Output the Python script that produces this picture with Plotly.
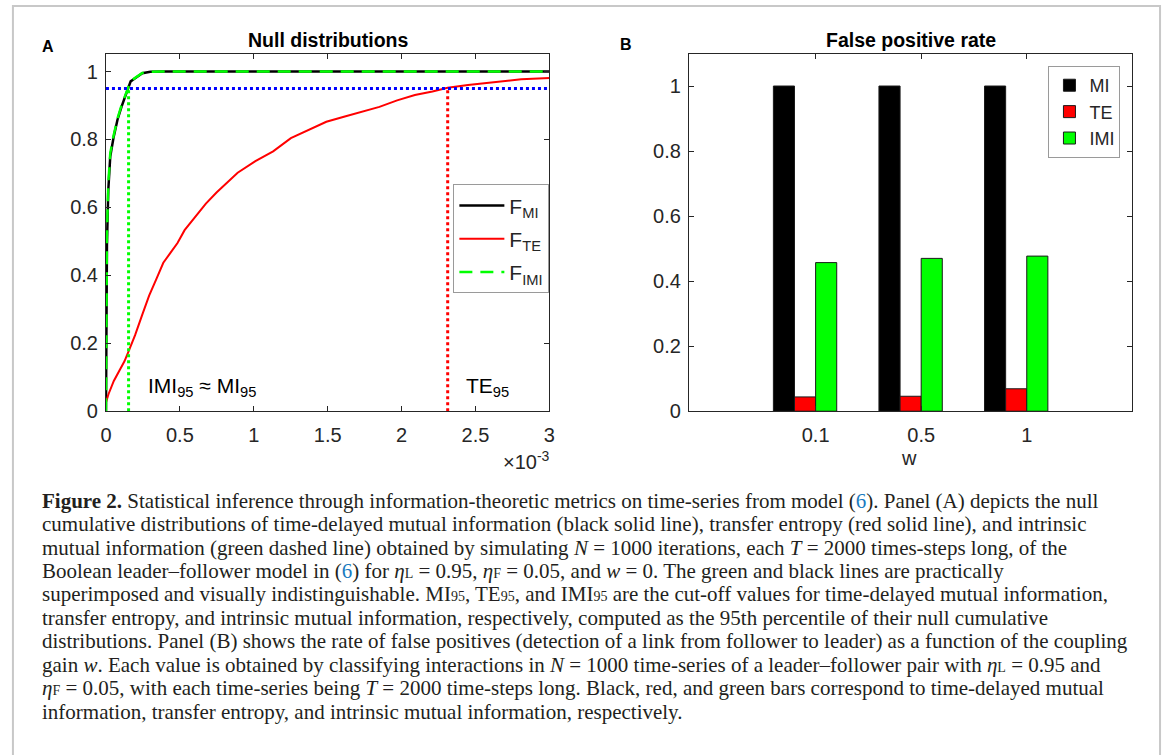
import plotly.graph_objects as go

# ---------------- data ----------------
# Panel A: null cumulative distributions (x in units of 1e-3)
MI_X = [0, 0.001, 0.002, 0.003, 0.004, 0.0055, 0.0067, 0.0156, 0.029, 0.051, 0.078, 0.105,
        0.134, 0.152, 0.167, 0.19, 0.223, 0.246, 0.30, 0.39, 0.6, 1.0, 2.0, 3.0]
MI_Y = [0, 0.05, 0.15, 0.28, 0.38, 0.45, 0.49, 0.65, 0.75, 0.805, 0.858, 0.896,
        0.93, 0.951, 0.971, 0.978, 0.989, 0.995, 0.999, 1.0, 1.0, 1.0, 1.0, 1.0]
IMI_X = [0, 0.001, 0.002, 0.003, 0.004, 0.0055, 0.0067, 0.0156, 0.029, 0.051, 0.078, 0.105,
         0.134, 0.152, 0.167, 0.19, 0.223, 0.246, 0.30, 0.39, 0.6, 1.0, 2.0, 3.0]
IMI_Y = [0, 0.06, 0.17, 0.30, 0.40, 0.47, 0.52, 0.67, 0.76, 0.81, 0.862, 0.90,
         0.934, 0.953, 0.972, 0.979, 0.99, 0.996, 0.999, 1.0, 1.0, 1.0, 1.0, 1.0]
TE_X = [0, 0.017, 0.053, 0.089, 0.125, 0.153, 0.197, 0.244, 0.292, 0.340, 0.388, 0.436,
        0.484, 0.532, 0.604, 0.676, 0.748, 0.820, 0.891, 1.011, 1.131, 1.251, 1.371, 1.491,
        1.610, 1.730, 1.850, 1.970, 2.090, 2.209, 2.312, 2.449, 2.569, 2.689, 2.809, 3.0]
TE_Y = [0.026, 0.05, 0.089, 0.118, 0.147, 0.176, 0.224, 0.282, 0.340, 0.388, 0.437, 0.466,
        0.495, 0.533, 0.572, 0.611, 0.644, 0.673, 0.702, 0.736, 0.765, 0.804, 0.828, 0.852,
        0.867, 0.881, 0.896, 0.915, 0.931, 0.941, 0.952, 0.960, 0.966, 0.972, 0.977, 0.981]
IMI95 = 0.153
TE95 = 2.312
LEVEL = 0.95
A_XTICKS = [0, 0.5, 1, 1.5, 2, 2.5, 3]
A_YTICKS = [0, 0.2, 0.4, 0.6, 0.8, 1]

# Panel B: false positive rate
W_LABELS = ["0.1", "0.5", "1"]
FPR_MI = [1.0, 1.0, 1.0]
FPR_TE = [0.044, 0.046, 0.069]
FPR_IMI = [0.457, 0.470, 0.477]
B_YTICKS = [0, 0.2, 0.4, 0.6, 0.8, 1]

# ---------------- figure ----------------
W, H = 1170, 755
def px(x):
    return x / W
def py(y):
    return (H - y) / H

FONT = "Liberation Sans, Arial, sans-serif"
SERIF = "Liberation Serif, Times New Roman, serif"
AXC = "#262626"

fig = go.Figure()

# Panel A curves
fig.add_trace(go.Scatter(x=MI_X, y=MI_Y, mode="lines", name="F<sub>MI</sub>", legendgroup="mi",
                         line=dict(color="black", width=2.5), xaxis="x", yaxis="y", legend="legend"))
fig.add_trace(go.Scatter(x=TE_X, y=TE_Y, mode="lines", name="F<sub>TE</sub>", legendgroup="te",
                         line=dict(color="#ff0000", width=2), xaxis="x", yaxis="y", legend="legend"))
fig.add_trace(go.Scatter(x=IMI_X, y=IMI_Y, mode="lines", name="F<sub>IMI</sub>", legendgroup="imi",
                         line=dict(color="#00ff00", width=2.5, dash="13px,8px"), xaxis="x", yaxis="y",
                         legend="legend"))
# cut-off lines
fig.add_trace(go.Scatter(x=[IMI95, IMI95], y=[0, LEVEL], mode="lines", showlegend=False,
                         line=dict(color="#00ff00", width=3, dash="dot"), xaxis="x", yaxis="y"))
fig.add_trace(go.Scatter(x=[TE95, TE95], y=[0, LEVEL], mode="lines", showlegend=False,
                         line=dict(color="#ff0000", width=3, dash="dot"), xaxis="x", yaxis="y"))
fig.add_trace(go.Scatter(x=[0, A_XTICKS[-1]], y=[LEVEL, LEVEL], mode="lines", showlegend=False,
                         line=dict(color="#0000ff", width=3, dash="dot"), xaxis="x", yaxis="y"))

# Panel B bars
for name, vals, col, off in [("MI", FPR_MI, "#000000", -0.4),
                             ("TE", FPR_TE, "#ff0000", -0.2),
                             ("IMI", FPR_IMI, "#00ff00", 0.0)]:
    fig.add_trace(go.Bar(x=W_LABELS, y=vals, name=name, width=0.2, offset=off,
                         marker=dict(color=col, line=dict(color="#1a1a1a", width=1)),
                         xaxis="x2", yaxis="y2", legend="legend2"))

axis_common = dict(showline=True, linecolor=AXC, linewidth=1, mirror="ticks", ticks="inside",
                   ticklen=5, tickcolor=AXC, showgrid=False, zeroline=False,
                   tickfont=dict(family=FONT, size=20, color="#262626"))

ydom = [py(417.3), py(54.3)]
fig.update_layout(
    width=W, height=H,
    margin=dict(l=0, r=0, t=0, b=0),
    paper_bgcolor="white", plot_bgcolor="white",
    barmode="overlay",
    xaxis=dict(domain=[px(101), px(549)], range=[0, 3], tickvals=A_XTICKS,
               ticktext=[f"{v:g}" for v in A_XTICKS], anchor="y", ticklabelstandoff=6,
               **axis_common),
    yaxis=dict(domain=ydom, range=[0, 1.053], tickvals=A_YTICKS,
               ticktext=[f"{v:g}" for v in A_YTICKS], anchor="x", ticklabelstandoff=3,
               **axis_common),
    xaxis2=dict(domain=[px(690), px(1138)], type="category", range=[-1.2, 3.0],
                anchor="y2", ticklabelstandoff=6, **axis_common),
    yaxis2=dict(domain=ydom, range=[0, 1.1], tickvals=B_YTICKS,
                ticktext=[f"{v:g}" for v in B_YTICKS], anchor="x2", ticklabelstandoff=3,
                **axis_common),
    legend=dict(x=px(549), xanchor="right", y=py(187), yanchor="top",
                bgcolor="white", bordercolor="#9a9a9a", borderwidth=1, tracegroupgap=3,
                font=dict(family=FONT, size=21, color="#262626"), itemwidth=45),
    legend2=dict(x=px(1126), xanchor="right", y=py(67), yanchor="top",
                 bgcolor="white", bordercolor="#9a9a9a", borderwidth=1,
                 font=dict(family=FONT, size=18, color="#262626")),
)

def pann(text, x, y, size, xanchor="center", color="black", family=FONT):
    return dict(text=text, x=px(x), y=py(y), xref="paper", yref="paper", xanchor=xanchor,
                yanchor="middle", showarrow=False, font=dict(family=family, size=size, color=color))

ann = []
ann.append(pann("<b>Null distributions</b>", 325, 41, 19.5))
ann.append(pann("<b>False positive rate</b>", 914, 41, 19.5))
ann.append(pann("<b>A</b>", 42, 47, 16))
ann.append(pann("<b>B</b>", 626, 45, 16))
ann.append(pann("×10<sup>-3</sup>", 552, 467, 20, xanchor="right", color="#262626"))
ann.append(pann("w", 912, 465, 20, color="#262626"))
# in-plot labels
ann.append(dict(text="IMI<sub>95</sub> ≈ MI<sub>95</sub>", x=0.27, y=0.07, xref="x", yref="y",
                xanchor="left", yanchor="middle", showarrow=False,
                font=dict(family=FONT, size=21, color="black")))
ann.append(dict(text="TE<sub>95</sub>", x=2.42, y=0.07, xref="x", yref="y",
                xanchor="left", yanchor="middle", showarrow=False,
                font=dict(family=FONT, size=21, color="black")))

# caption, one annotation per line
BLUE = "#1a7bc0"
def small(t):
    return "<span style='font-size:14px'>%s</span>" % t
REF6 = "(<span style='color:%s'>6</span>)" % BLUE
ETA_L = "<i>η</i>" + small("L")
ETA_F = "<i>η</i>" + small("F")
cap_lines = [
    "<b>Figure 2.</b> Statistical inference through information-theoretic metrics on time-series from model %s. Panel (A) depicts the null" % REF6,
    "cumulative distributions of time-delayed mutual information (black solid line), transfer entropy (red solid line), and intrinsic",
    "mutual information (green dashed line) obtained by simulating <i>N</i> = 1000 iterations, each <i>T</i> = 2000 times-steps long, of the",
    "Boolean leader–follower model in %s for %s = 0.95, %s = 0.05, and <i>w</i> = 0. The green and black lines are practically" % (REF6, ETA_L, ETA_F),
    "superimposed and visually indistinguishable. MI%s, TE%s, and IMI%s are the cut-off values for time-delayed mutual information," % (small("95"), small("95"), small("95")),
    "transfer entropy, and intrinsic mutual information, respectively, computed as the 95th percentile of their null cumulative",
    "distributions. Panel (B) shows the rate of false positives (detection of a link from follower to leader) as a function of the coupling",
    "gain <i>w</i>. Each value is obtained by classifying interactions in <i>N</i> = 1000 time-series of a leader–follower pair with %s = 0.95 and" % ETA_L,
    "%s = 0.05, with each time-series being <i>T</i> = 2000 time-steps long. Black, red, and green bars correspond to time-delayed mutual" % ETA_F,
    "information, transfer entropy, and intrinsic mutual information, respectively.",
]
for i, line in enumerate(cap_lines):
    ann.append(dict(text=line, x=px(34), y=py(508 + 23.8 * i), xref="paper", yref="paper",
                    xanchor="left", yanchor="middle", align="left", showarrow=False,
                    font=dict(family=SERIF, size=21, color="#231f20")))
fig.update_layout(annotations=ann)

# page frame
fig.add_shape(type="rect", xref="paper", yref="paper", x0=px(7), x1=px(1166), y0=-0.02, y1=py(6),
              line=dict(color="#c8c8c8", width=2), fillcolor="rgba(0,0,0,0)", layer="below")

fig.write_html("out.html")
